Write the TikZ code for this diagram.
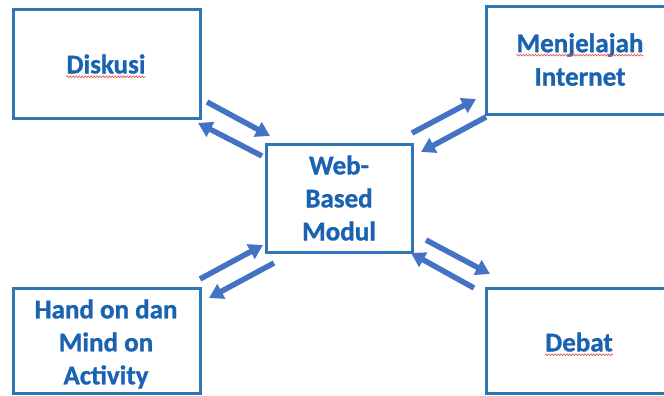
\documentclass[tikz,border=0pt]{standalone}
\usepackage{fontspec}
\setmainfont{Carlito}[BoldFeatures={FakeBold=1}]
\usetikzlibrary{arrows.meta,decorations.pathmorphing}
\definecolor{boxblue}{HTML}{2E75B6}
\definecolor{txtblue}{HTML}{1A62B2}
\definecolor{arrblue}{HTML}{4472C4}
\definecolor{squig}{HTML}{E05050}
\tikzset{
  x=1pt, y=-1pt,
  panel/.style={draw=boxblue, line width=3pt, fill=white},
  word/.style={text=txtblue, font=\fontsize{27}{33}\selectfont\bfseries, align=center, inner sep=0pt},
  link/.style={draw=arrblue, line width=5.5pt, -{Triangle[length=14pt,width=16pt]}},
  spell/.style={draw=squig, line width=0.6pt, decorate, decoration={snake, amplitude=0.9pt, segment length=3pt}}
}
\begin{document}
\begin{tikzpicture}
\useasboundingbox (0,0) rectangle (664,396);
\clip (0,0) rectangle (664,396);

% boxes
\draw[panel] (13,10) rectangle (200,118);
\draw[panel] (486,7) rectangle (673,114);
\draw[panel] (266,144) rectangle (412,252);
\draw[panel] (13,288) rectangle (200,393);
\draw[panel] (486,288) rectangle (673,393);

% labels
\node[word] (dis) at (106,64) {Diskusi};
\node[word] (men) at (580,45) {Menjelajah};
\node[word] (int) at (580,77) {Internet};
\node[word] (web) at (339,198) {Web-\\Based\\Modul};
\node[word] (hand) at (106,344) {Hand on dan\\Mind on\\Activity};
\node[word] (deb) at (579,342) {Debat};

% spell-check underlines
\draw[spell] ([yshift=-3pt]dis.south west) -- ([yshift=-3pt]dis.south east);
\draw[spell] ([yshift=-3pt]men.base west) -- ([yshift=-3pt]men.base east);
\draw[spell] ([yshift=-3pt]deb.south west) -- ([yshift=-3pt]deb.south east);

% arrow end points
\coordinate (a1s) at (207,102); \coordinate (a1e) at (270,136);
\coordinate (a2s) at (262,156); \coordinate (a2e) at (198,123);
\coordinate (b1s) at (412,133); \coordinate (b1e) at (476,99);
\coordinate (b2s) at (486,117); \coordinate (b2e) at (421,152);
\coordinate (c1s) at (200,279); \coordinate (c1e) at (263,245);
\coordinate (c2s) at (274,263); \coordinate (c2e) at (209,298);
\coordinate (d1s) at (426,240); \coordinate (d1e) at (490,274);
\coordinate (d2s) at (474,288); \coordinate (d2e) at (411,253);

% arrows
\draw[link] (a1s) -- (a1e);
\draw[link] (a2s) -- (a2e);
\draw[link] (b1s) -- (b1e);
\draw[link] (b2s) -- (b2e);
\draw[link] (c1s) -- (c1e);
\draw[link] (c2s) -- (c2e);
\draw[link] (d1s) -- (d1e);
\draw[link] (d2s) -- (d2e);
\end{tikzpicture}
\end{document}
